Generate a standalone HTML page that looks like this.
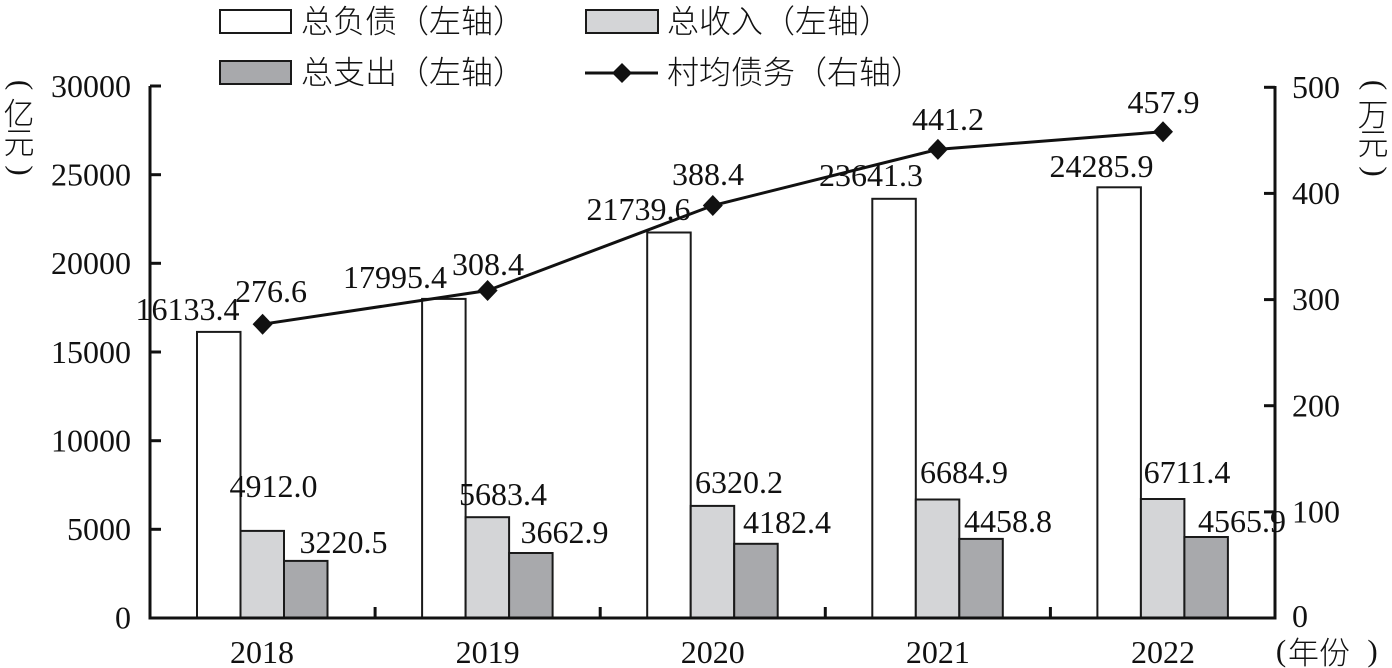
<!DOCTYPE html>
<html><head><meta charset="utf-8"><style>
html,body{margin:0;padding:0;background:#fff;}
body{width:1392px;height:668px;position:relative;overflow:hidden;}
svg{position:absolute;left:0;top:0;}
</style></head><body>
<svg width="1392" height="668" viewBox="0 0 1392 668" xmlns="http://www.w3.org/2000/svg">
<g fill="none" stroke="#111" stroke-width="3">
<line x1="150" y1="86" x2="150" y2="619.5"/>
<line x1="1275" y1="86" x2="1275" y2="619.5"/>
</g>
<g stroke="#111" stroke-width="3">
<line x1="150" y1="86" x2="161" y2="86"/>
<line x1="150" y1="174.7" x2="161" y2="174.7"/>
<line x1="150" y1="263.3" x2="161" y2="263.3"/>
<line x1="150" y1="352" x2="161" y2="352"/>
<line x1="150" y1="440.7" x2="161" y2="440.7"/>
<line x1="150" y1="529.3" x2="161" y2="529.3"/>
<line x1="1264" y1="87.3" x2="1275" y2="87.3"/>
<line x1="1264" y1="193.4" x2="1275" y2="193.4"/>
<line x1="1264" y1="299.6" x2="1275" y2="299.6"/>
<line x1="1264" y1="405.7" x2="1275" y2="405.7"/>
<line x1="1264" y1="511.9" x2="1275" y2="511.9"/>
<line x1="375.1" y1="607" x2="375.1" y2="618"/>
<line x1="600.2" y1="607" x2="600.2" y2="618"/>
<line x1="825.3" y1="607" x2="825.3" y2="618"/>
<line x1="1050.4" y1="607" x2="1050.4" y2="618"/>
</g>
<g stroke="#1a1a1a" stroke-width="2">
<rect x="197" y="331.9" width="43.5" height="286.1" fill="#fff"/>
<rect x="240.5" y="530.9" width="43.5" height="87.1" fill="#d4d5d7"/>
<rect x="284" y="560.9" width="43.5" height="57.1" fill="#a8a9ac"/>
<rect x="422.1" y="298.9" width="43.5" height="319.1" fill="#fff"/>
<rect x="465.6" y="517.2" width="43.5" height="100.8" fill="#d4d5d7"/>
<rect x="509.1" y="553" width="43.5" height="65" fill="#a8a9ac"/>
<rect x="647.2" y="232.5" width="43.5" height="385.5" fill="#fff"/>
<rect x="690.7" y="505.9" width="43.5" height="112.1" fill="#d4d5d7"/>
<rect x="734.2" y="543.8" width="43.5" height="74.2" fill="#a8a9ac"/>
<rect x="872.3" y="198.8" width="43.5" height="419.2" fill="#fff"/>
<rect x="915.8" y="499.5" width="43.5" height="118.5" fill="#d4d5d7"/>
<rect x="959.3" y="538.9" width="43.5" height="79.1" fill="#a8a9ac"/>
<rect x="1097.4" y="187.3" width="43.5" height="430.7" fill="#fff"/>
<rect x="1140.9" y="499" width="43.5" height="119" fill="#d4d5d7"/>
<rect x="1184.4" y="537" width="43.5" height="81" fill="#a8a9ac"/>
</g>
<line x1="148.5" y1="618" x2="1276.5" y2="618" stroke="#111" stroke-width="3"/>
<polyline points="262.6,324.2 487.6,290.5 712.8,205.5 937.9,149.4 1163,131.7" fill="none" stroke="#111" stroke-width="3"/>
<g fill="#111">
<polygon points="262.6,313.7 272.6,324.2 262.6,334.7 252.6,324.2"/>
<polygon points="487.6,280 497.6,290.5 487.6,301 477.6,290.5"/>
<polygon points="712.8,195 722.8,205.5 712.8,216 702.8,205.5"/>
<polygon points="937.9,138.9 947.9,149.4 937.9,159.9 927.9,149.4"/>
<polygon points="1163,121.2 1173,131.7 1163,142.2 1153,131.7"/>
</g>
<!-- legend -->
<rect x="220" y="10" width="71" height="23" fill="#fff" stroke="#1a1a1a" stroke-width="2"/>
<rect x="220" y="61" width="71" height="23" fill="#a8a9ac" stroke="#1a1a1a" stroke-width="2"/>
<rect x="586" y="10" width="72" height="23" fill="#d4d5d7" stroke="#1a1a1a" stroke-width="2"/>
<line x1="585" y1="73" x2="658" y2="73" stroke="#111" stroke-width="3"/>
<polygon points="622,63 632,73 622,83 612,73" fill="#111"/>
<g font-family="'Noto Sans CJK SC','WenQuanYi Zen Hei',sans-serif" font-size="32" font-weight="300" fill="#111">
<text x="301" y="32.5">总负债（左轴）</text>
<text x="301" y="83.5">总支出（左轴）</text>
<text x="667" y="32.5">总收入（左轴）</text>
<text x="667" y="83.5">村均债务（右轴）</text>
<text x="1288" y="664" font-size="31">年份</text>
<g text-anchor="middle" font-size="31">
<text x="19" y="125">亿</text>
<text x="19" y="154">元</text>
<text x="1373" y="126">万</text>
<text x="1373" y="155">元</text>
</g>
</g>
<g font-family="'Liberation Serif',serif" font-size="31" fill="#111" text-anchor="middle">
<text x="19" y="92.4" transform="rotate(90 19 85)">(</text>
<text x="19" y="177.9" transform="rotate(90 19 170.5)">)</text>
<text x="1373" y="92.4" transform="rotate(90 1373 85)">(</text>
<text x="1373" y="178.9" transform="rotate(90 1373 171.5)">)</text>
<text x="1281" y="661">(</text>
<text x="1372.5" y="661">)</text>
</g>
<g font-family="'Liberation Serif',serif" font-size="32" fill="#111">
<g text-anchor="end">
<text x="131" y="97">30000</text>
<text x="131" y="185.5">25000</text>
<text x="131" y="274">20000</text>
<text x="131" y="363">15000</text>
<text x="131" y="451.5">10000</text>
<text x="131" y="540">5000</text>
<text x="131" y="628.5">0</text>
</g>
<text x="1292" y="98">500</text>
<text x="1292" y="204">400</text>
<text x="1292" y="310">300</text>
<text x="1292" y="416.5">200</text>
<text x="1292" y="522.5">100</text>
<text x="1292" y="627">0</text>
<g text-anchor="middle">
<text x="262" y="663">2018</text>
<text x="487.6" y="663">2019</text>
<text x="712.8" y="663">2020</text>
<text x="937.9" y="663">2021</text>
<text x="1163" y="663">2022</text>
<text x="187.5" y="320">16133.4</text>
<text x="271" y="302">276.6</text>
<text x="395" y="288">17995.4</text>
<text x="488" y="275">308.4</text>
<text x="638.5" y="220">21739.6</text>
<text x="708" y="185">388.4</text>
<text x="871" y="186">23641.3</text>
<text x="948" y="130">441.2</text>
<text x="1101.5" y="177">24285.9</text>
<text x="1163.5" y="113">457.9</text>
<text x="273.5" y="497">4912.0</text>
<text x="343.5" y="553">3220.5</text>
<text x="503" y="505">5683.4</text>
<text x="564.5" y="543">3662.9</text>
<text x="739" y="493">6320.2</text>
<text x="787" y="533">4182.4</text>
<text x="964" y="483">6684.9</text>
<text x="1008" y="532">4458.8</text>
<text x="1187" y="483">6711.4</text>
<text x="1242" y="532">4565.9</text>
</g>
</g>
</svg>
</body></html>
